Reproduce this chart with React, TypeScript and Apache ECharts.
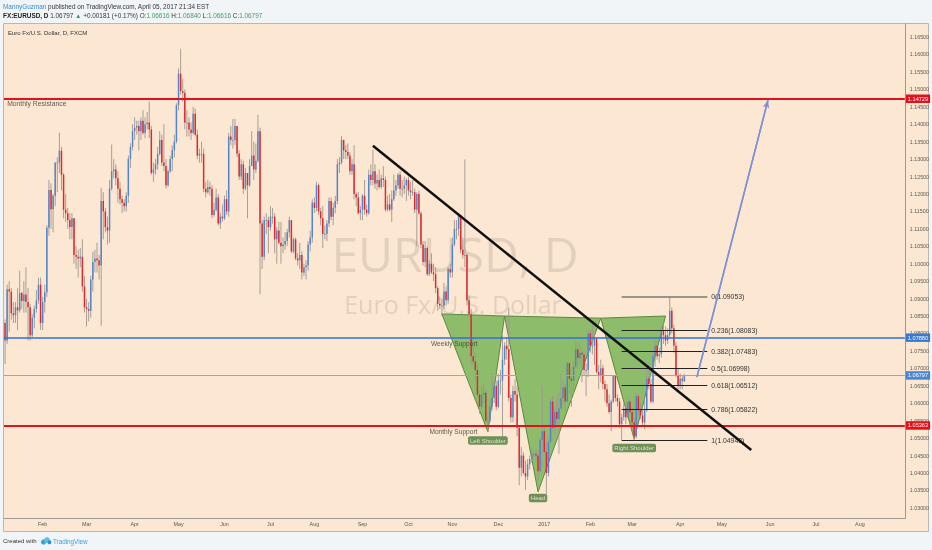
import React, { useEffect, useRef } from "react";
import * as echarts from "echarts";

type Candle = [number, number, number, number]; // open, close, low, high

const jan2016: Candle[] = [
  [1.0830, 1.0780, 1.0712, 1.0840], [1.0780, 1.0927, 1.0770, 1.0940], [1.0927, 1.0920, 1.0805, 1.0950],
  [1.0920, 1.0858, 1.0840, 1.0930], [1.0858, 1.0852, 1.0830, 1.0890], [1.0852, 1.0875, 1.0830, 1.0890],
  [1.0875, 1.0866, 1.0810, 1.0930], [1.0866, 1.0916, 1.0860, 1.0980], [1.0916, 1.0893, 1.0870, 1.0920],
  [1.0893, 1.0912, 1.0860, 1.0950], [1.0912, 1.0890, 1.0860, 1.0990], [1.0890, 1.0875, 1.0780, 1.0930],
  [1.0875, 1.0795, 1.0780, 1.0885], [1.0795, 1.0845, 1.0790, 1.0855], [1.0845, 1.0870, 1.0815, 1.0880],
  [1.0870, 1.0895, 1.0860, 1.0925], [1.0895, 1.0940, 1.0885, 1.0960], [1.0940, 1.0830, 1.0810, 1.0960],
];
const feb2016: Candle[] = [
  [1.0830, 1.0890, 1.0810, 1.0905], [1.0890, 1.0918, 1.0860, 1.0940], [1.0918, 1.1103, 1.0905, 1.1110],
  [1.1103, 1.1211, 1.1080, 1.1240], [1.1211, 1.1156, 1.1100, 1.1230], [1.1156, 1.1195, 1.1090, 1.1200],
  [1.1195, 1.1290, 1.1165, 1.1290], [1.1290, 1.1290, 1.1205, 1.1305], [1.1290, 1.1324, 1.1260, 1.1376],
  [1.1324, 1.1255, 1.1210, 1.1335], [1.1255, 1.1155, 1.1130, 1.1260], [1.1155, 1.1145, 1.1120, 1.1200],
  [1.1145, 1.1125, 1.1100, 1.1160], [1.1125, 1.1105, 1.1070, 1.1145], [1.1105, 1.1130, 1.1070, 1.1145],
  [1.1130, 1.1025, 1.1000, 1.1130], [1.1025, 1.1020, 1.0985, 1.1050], [1.1020, 1.1015, 1.0960, 1.1040],
  [1.1015, 1.1020, 1.0990, 1.1045], [1.1020, 1.0935, 1.0920, 1.1070], [1.0935, 1.0875, 1.0860, 1.0965],
];
const mar2016: Candle[] = [
  [1.0875, 1.0870, 1.0820, 1.0900], [1.0870, 1.0865, 1.0835, 1.0890], [1.0865, 1.0955, 1.0845, 1.0965],
  [1.0955, 1.1005, 1.0920, 1.1035], [1.1005, 1.1015, 1.0975, 1.1040], [1.1015, 1.1010, 1.0975, 1.1060],
  [1.1010, 1.0995, 1.0955, 1.1025], [1.0995, 1.1180, 1.0822, 1.1218], [1.1180, 1.1150, 1.1070, 1.1205],
  [1.1150, 1.1105, 1.1090, 1.1160], [1.1105, 1.1095, 1.1055, 1.1135], [1.1095, 1.1215, 1.1060, 1.1240],
  [1.1215, 1.1265, 1.1210, 1.1342], [1.1265, 1.1270, 1.1245, 1.1300], [1.1270, 1.1245, 1.1225, 1.1285],
  [1.1245, 1.1215, 1.1175, 1.1265], [1.1215, 1.1185, 1.1170, 1.1235], [1.1185, 1.1175, 1.1145, 1.1195],
  [1.1175, 1.1165, 1.1150, 1.1185], [1.1165, 1.1195, 1.1150, 1.1205], [1.1195, 1.1300, 1.1175, 1.1310],
  [1.1300, 1.1335, 1.1275, 1.1345], [1.1335, 1.1380, 1.1325, 1.1400],
];
const apr2016: Candle[] = [
  [1.1380, 1.1390, 1.1355, 1.1420], [1.1390, 1.1395, 1.1370, 1.1410], [1.1395, 1.1380, 1.1325, 1.1410],
  [1.1380, 1.1410, 1.1355, 1.1420], [1.1410, 1.1375, 1.1370, 1.1440], [1.1375, 1.1400, 1.1360, 1.1420],
  [1.1400, 1.1405, 1.1385, 1.1435], [1.1405, 1.1385, 1.1360, 1.1465], [1.1385, 1.1260, 1.1255, 1.1395],
  [1.1260, 1.1270, 1.1235, 1.1290], [1.1270, 1.1285, 1.1255, 1.1300], [1.1285, 1.1315, 1.1270, 1.1335],
  [1.1315, 1.1355, 1.1310, 1.1380], [1.1355, 1.1290, 1.1280, 1.1370], [1.1290, 1.1280, 1.1265, 1.1400],
  [1.1280, 1.1225, 1.1215, 1.1300], [1.1225, 1.1265, 1.1220, 1.1270], [1.1265, 1.1300, 1.1260, 1.1310],
  [1.1300, 1.1325, 1.1265, 1.1340], [1.1325, 1.1350, 1.1305, 1.1370], [1.1350, 1.1455, 1.1345, 1.1460],
];
const may2016: Candle[] = [
  [1.1455, 1.1545, 1.1440, 1.1560], [1.1545, 1.1495, 1.1485, 1.1616], [1.1495, 1.1490, 1.1465, 1.1530],
  [1.1490, 1.1405, 1.1385, 1.1500], [1.1405, 1.1405, 1.1365, 1.1440], [1.1405, 1.1385, 1.1365, 1.1420],
  [1.1385, 1.1375, 1.1355, 1.1405], [1.1375, 1.1430, 1.1370, 1.1450], [1.1430, 1.1370, 1.1365, 1.1445],
  [1.1370, 1.1310, 1.1300, 1.1385], [1.1310, 1.1315, 1.1290, 1.1330], [1.1315, 1.1315, 1.1290, 1.1350],
  [1.1315, 1.1215, 1.1205, 1.1330], [1.1215, 1.1205, 1.1190, 1.1235], [1.1205, 1.1220, 1.1200, 1.1240],
  [1.1220, 1.1215, 1.1195, 1.1235], [1.1215, 1.1140, 1.1130, 1.1225], [1.1140, 1.1155, 1.1135, 1.1175],
  [1.1155, 1.1190, 1.1150, 1.1215], [1.1190, 1.1115, 1.1110, 1.1200], [1.1115, 1.1135, 1.1100, 1.1145],
  [1.1135, 1.1130, 1.1120, 1.1170],
];
const jun2016: Candle[] = [
  [1.1130, 1.1185, 1.1125, 1.1195], [1.1185, 1.1150, 1.1140, 1.1210], [1.1150, 1.1365, 1.1135, 1.1375],
  [1.1365, 1.1355, 1.1340, 1.1395], [1.1355, 1.1355, 1.1330, 1.1415], [1.1355, 1.1395, 1.1340, 1.1415],
  [1.1395, 1.1315, 1.1305, 1.1395], [1.1315, 1.1250, 1.1240, 1.1325], [1.1250, 1.1285, 1.1240, 1.1300],
  [1.1285, 1.1215, 1.1200, 1.1295], [1.1215, 1.1260, 1.1210, 1.1275], [1.1260, 1.1225, 1.1130, 1.1260],
  [1.1225, 1.1280, 1.1220, 1.1300], [1.1280, 1.1310, 1.1280, 1.1380], [1.1310, 1.1270, 1.1240, 1.1350],
  [1.1270, 1.1295, 1.1260, 1.1345], [1.1295, 1.1380, 1.1290, 1.1427], [1.1380, 1.1115, 1.0912, 1.1390],
  [1.1115, 1.1020, 1.0985, 1.1125], [1.1020, 1.1125, 1.1010, 1.1135], [1.1125, 1.1125, 1.1085, 1.1145],
  [1.1125, 1.1105, 1.1030, 1.1135],
];
const jul2016: Candle[] = [
  [1.1105, 1.1135, 1.1095, 1.1165], [1.1135, 1.1135, 1.1115, 1.1160], [1.1135, 1.1070, 1.1030, 1.1145],
  [1.1070, 1.1095, 1.1000, 1.1105], [1.1095, 1.1060, 1.1055, 1.1120], [1.1060, 1.1050, 1.1000, 1.1120],
  [1.1050, 1.1055, 1.1030, 1.1075], [1.1055, 1.1065, 1.1040, 1.1090], [1.1065, 1.1090, 1.1050, 1.1100],
  [1.1090, 1.1125, 1.1075, 1.1135], [1.1125, 1.1035, 1.1030, 1.1125], [1.1035, 1.1070, 1.1030, 1.1075],
  [1.1070, 1.1015, 1.1010, 1.1075], [1.1015, 1.1010, 1.0995, 1.1030], [1.1010, 1.1025, 1.0985, 1.1060],
  [1.1025, 1.0975, 1.0955, 1.1035], [1.0975, 1.0990, 1.0965, 1.1000], [1.0990, 1.0995, 1.0955, 1.1010],
  [1.0995, 1.1055, 1.0980, 1.1065], [1.1055, 1.1075, 1.1035, 1.1095], [1.1075, 1.1175, 1.1060, 1.1185],
];
const aug2016: Candle[] = [
  [1.1175, 1.1160, 1.1145, 1.1190], [1.1160, 1.1225, 1.1150, 1.1235], [1.1225, 1.1150, 1.1140, 1.1230],
  [1.1150, 1.1130, 1.1110, 1.1160], [1.1130, 1.1085, 1.1045, 1.1165], [1.1085, 1.1085, 1.1070, 1.1110],
  [1.1085, 1.1115, 1.1065, 1.1125], [1.1115, 1.1180, 1.1105, 1.1190], [1.1180, 1.1135, 1.1125, 1.1190],
  [1.1135, 1.1160, 1.1110, 1.1175], [1.1160, 1.1180, 1.1145, 1.1195], [1.1180, 1.1285, 1.1170, 1.1300],
  [1.1285, 1.1290, 1.1260, 1.1305], [1.1290, 1.1355, 1.1285, 1.1366], [1.1355, 1.1325, 1.1300, 1.1355],
  [1.1325, 1.1320, 1.1300, 1.1340], [1.1320, 1.1310, 1.1300, 1.1345], [1.1310, 1.1265, 1.1255, 1.1320],
  [1.1265, 1.1285, 1.1255, 1.1300], [1.1285, 1.1200, 1.1185, 1.1340], [1.1200, 1.1190, 1.1165, 1.1205],
  [1.1190, 1.1145, 1.1140, 1.1205], [1.1145, 1.1155, 1.1125, 1.1165],
];
const sep2016: Candle[] = [
  [1.1155, 1.1195, 1.1125, 1.1200], [1.1195, 1.1155, 1.1140, 1.1240], [1.1155, 1.1145, 1.1135, 1.1170],
  [1.1145, 1.1255, 1.1140, 1.1270], [1.1255, 1.1240, 1.1225, 1.1285], [1.1240, 1.1265, 1.1225, 1.1327],
  [1.1265, 1.1230, 1.1215, 1.1285], [1.1230, 1.1240, 1.1210, 1.1255], [1.1240, 1.1220, 1.1215, 1.1270],
  [1.1220, 1.1245, 1.1215, 1.1255], [1.1245, 1.1240, 1.1220, 1.1280], [1.1240, 1.1155, 1.1150, 1.1250],
  [1.1155, 1.1170, 1.1150, 1.1195], [1.1170, 1.1155, 1.1150, 1.1200], [1.1155, 1.1185, 1.1120, 1.1210],
  [1.1185, 1.1210, 1.1180, 1.1255], [1.1210, 1.1225, 1.1195, 1.1240], [1.1225, 1.1255, 1.1215, 1.1260],
  [1.1255, 1.1215, 1.1195, 1.1265], [1.1215, 1.1215, 1.1190, 1.1240], [1.1215, 1.1225, 1.1200, 1.1250],
  [1.1225, 1.1240, 1.1180, 1.1245],
];
const oct2016: Candle[] = [
  [1.1240, 1.1210, 1.1195, 1.1250], [1.1210, 1.1205, 1.1185, 1.1235], [1.1205, 1.1205, 1.1195, 1.1240],
  [1.1205, 1.1155, 1.1145, 1.1215], [1.1155, 1.1200, 1.1050, 1.1205], [1.1200, 1.1145, 1.1140, 1.1210],
  [1.1145, 1.1055, 1.1045, 1.1150], [1.1055, 1.1005, 1.0995, 1.1065], [1.1005, 1.1045, 1.0990, 1.1065],
  [1.1045, 1.0970, 1.0965, 1.1050], [1.0970, 1.1000, 1.0965, 1.1010], [1.1000, 1.0975, 1.0970, 1.1030],
  [1.0975, 1.0970, 1.0950, 1.1000], [1.0970, 1.0930, 1.0915, 1.0990], [1.0930, 1.0885, 1.0865, 1.0935],
  [1.0885, 1.0880, 1.0870, 1.0905], [1.0880, 1.0880, 1.0850, 1.0900], [1.0880, 1.0920, 1.0870, 1.0945],
  [1.0920, 1.0895, 1.0880, 1.0935], [1.0895, 1.0985, 1.0885, 1.0990], [1.0985, 1.0975, 1.0960, 1.1000],
];
const nov2016: Candle[] = [
  [1.0975, 1.1055, 1.0960, 1.1075], [1.1055, 1.1100, 1.1050, 1.1125], [1.1100, 1.1100, 1.1070, 1.1125],
  [1.1100, 1.1140, 1.1080, 1.1145], [1.1140, 1.1040, 1.1030, 1.1140], [1.1040, 1.1025, 1.1015, 1.1075],
  [1.1025, 1.1025, 1.0990, 1.1299], [1.1025, 1.0895, 1.0880, 1.1030], [1.0895, 1.0855, 1.0845, 1.0910],
  [1.0855, 1.0735, 1.0710, 1.0870], [1.0735, 1.0720, 1.0705, 1.0785], [1.0720, 1.0695, 1.0665, 1.0745],
  [1.0695, 1.0625, 1.0620, 1.0715], [1.0625, 1.0590, 1.0570, 1.0635], [1.0590, 1.0625, 1.0585, 1.0650],
  [1.0625, 1.0630, 1.0600, 1.0655], [1.0630, 1.0550, 1.0545, 1.0640], [1.0550, 1.0550, 1.0518, 1.0570],
  [1.0550, 1.0590, 1.0545, 1.0610], [1.0590, 1.0615, 1.0580, 1.0685], [1.0615, 1.0650, 1.0600, 1.0660],
  [1.0650, 1.0590, 1.0580, 1.0665],
];
const dec2016: Candle[] = [
  [1.0590, 1.0665, 1.0585, 1.0685], [1.0665, 1.0665, 1.0625, 1.0695], [1.0665, 1.0725, 1.0505, 1.0795],
  [1.0725, 1.0765, 1.0710, 1.0775], [1.0765, 1.0755, 1.0725, 1.0790], [1.0755, 1.0615, 1.0605, 1.0874],
  [1.0615, 1.0560, 1.0545, 1.0625], [1.0560, 1.0635, 1.0545, 1.0650], [1.0635, 1.0625, 1.0605, 1.0670],
  [1.0625, 1.0530, 1.0505, 1.0650], [1.0530, 1.0415, 1.0365, 1.0535], [1.0415, 1.0450, 1.0390, 1.0475],
  [1.0450, 1.0400, 1.0395, 1.0460], [1.0400, 1.0390, 1.0352, 1.0435], [1.0390, 1.0425, 1.0380, 1.0440],
  [1.0425, 1.0440, 1.0410, 1.0450], [1.0440, 1.0455, 1.0430, 1.0470], [1.0455, 1.0455, 1.0445, 1.0465],
  [1.0455, 1.0450, 1.0435, 1.0470], [1.0450, 1.0405, 1.0375, 1.0465], [1.0405, 1.0495, 1.0400, 1.0500],
  [1.0495, 1.0520, 1.0420, 1.0650],
];
const jan2017: Candle[] = [
  [1.0520, 1.0460, 1.0455, 1.0530], [1.0460, 1.0400, 1.0340, 1.0485], [1.0400, 1.0490, 1.0390, 1.0500],
  [1.0490, 1.0605, 1.0485, 1.0615], [1.0605, 1.0530, 1.0520, 1.0620], [1.0530, 1.0575, 1.0510, 1.0590],
  [1.0575, 1.0555, 1.0540, 1.0615], [1.0555, 1.0585, 1.0455, 1.0630], [1.0585, 1.0615, 1.0580, 1.0685],
  [1.0615, 1.0645, 1.0595, 1.0665], [1.0645, 1.0605, 1.0580, 1.0655], [1.0605, 1.0715, 1.0600, 1.0720],
  [1.0715, 1.0670, 1.0625, 1.0720], [1.0670, 1.0665, 1.0590, 1.0680], [1.0665, 1.0705, 1.0625, 1.0720],
  [1.0705, 1.0755, 1.0700, 1.0775], [1.0755, 1.0730, 1.0700, 1.0775], [1.0730, 1.0745, 1.0710, 1.0775],
  [1.0745, 1.0740, 1.0660, 1.0755], [1.0740, 1.0695, 1.0680, 1.0750], [1.0695, 1.0695, 1.0620, 1.0715],
  [1.0695, 1.0800, 1.0675, 1.0810],
];
const feb2017: Candle[] = [
  [1.0800, 1.0765, 1.0745, 1.0810], [1.0765, 1.0765, 1.0740, 1.0829], [1.0765, 1.0785, 1.0710, 1.0800],
  [1.0785, 1.0690, 1.0685, 1.0790], [1.0690, 1.0680, 1.0640, 1.0710], [1.0680, 1.0700, 1.0660, 1.0725],
  [1.0700, 1.0655, 1.0640, 1.0710], [1.0655, 1.0640, 1.0605, 1.0665], [1.0640, 1.0600, 1.0590, 1.0655],
  [1.0600, 1.0575, 1.0570, 1.0625], [1.0575, 1.0605, 1.0520, 1.0610], [1.0605, 1.0680, 1.0600, 1.0680],
  [1.0680, 1.0615, 1.0605, 1.0680], [1.0615, 1.0605, 1.0590, 1.0625], [1.0605, 1.0540, 1.0530, 1.0615],
  [1.0540, 1.0560, 1.0495, 1.0570], [1.0560, 1.0585, 1.0550, 1.0600], [1.0585, 1.0560, 1.0540, 1.0600],
  [1.0560, 1.0605, 1.0555, 1.0620], [1.0605, 1.0575, 1.0570, 1.0610],
];
const mar2017: Candle[] = [
  [1.0575, 1.0545, 1.0525, 1.0590], [1.0545, 1.0505, 1.0494, 1.0560], [1.0505, 1.0620, 1.0500, 1.0630],
  [1.0620, 1.0580, 1.0565, 1.0625], [1.0580, 1.0565, 1.0555, 1.0600], [1.0565, 1.0545, 1.0535, 1.0580],
  [1.0545, 1.0580, 1.0525, 1.0615], [1.0580, 1.0670, 1.0575, 1.0700], [1.0670, 1.0655, 1.0640, 1.0715],
  [1.0655, 1.0605, 1.0600, 1.0670], [1.0605, 1.0735, 1.0600, 1.0745], [1.0735, 1.0765, 1.0705, 1.0780],
  [1.0765, 1.0735, 1.0725, 1.0780], [1.0735, 1.0740, 1.0715, 1.0760], [1.0740, 1.0810, 1.0730, 1.0820],
  [1.0810, 1.0795, 1.0770, 1.0830], [1.0795, 1.0780, 1.0765, 1.0820], [1.0780, 1.0795, 1.0770, 1.0815],
  [1.0795, 1.0865, 1.0790, 1.0906], [1.0865, 1.0815, 1.0800, 1.0875], [1.0815, 1.0765, 1.0745, 1.0825],
  [1.0765, 1.0680, 1.0675, 1.0775], [1.0680, 1.0650, 1.0640, 1.0700],
];
const apr2017: Candle[] = [
  [1.0650, 1.0670, 1.0640, 1.0685], [1.0670, 1.0665, 1.0640, 1.0680], [1.0662, 1.0680, 1.0662, 1.0684],
];

const candles: Candle[] = [
  ...jan2016, ...feb2016, ...mar2016, ...apr2016, ...may2016, ...jun2016, ...jul2016, ...aug2016,
  ...sep2016, ...oct2016, ...nov2016, ...dec2016, ...jan2017, ...feb2017, ...mar2017, ...apr2017,
];

const monthNames = ["Jan", "Feb", "Mar", "Apr", "May", "Jun", "Jul", "Aug", "Sep", "Oct", "Nov", "Dec"];
const firstDay = "2016-01-06";
const lastDay = "2017-08-30";

// price levels
const monthlyResistance = 1.14729;
const weeklySupport = 1.0788;
const monthlySupport = 1.05363;
const lastPrice = 1.06797;

// Fibonacci retracement
const fibStart = "2017-02-22";
const fibEnd = "2017-04-20";
const fibRatios = ["0", "0.236", "0.382", "0.5", "0.618", "0.786", "1"];
const fibPrices = [1.09053, 1.08083, 1.07483, 1.06998, 1.06512, 1.05822, 1.04943];

// trend line and projection
const trendLine: [string, number][] = [["2016-09-08", 1.1338], ["2017-05-19", 1.0466]];
const projection: [string, number][] = [["2017-04-13", 1.0675], ["2017-05-31", 1.1469]];

// inverse head & shoulders points
const hsStart: [string, number] = ["2016-10-25", 1.0856];
const hsLeft: [string, number] = ["2016-11-24", 1.0518];
const hsNeck1: [string, number] = ["2016-12-06", 1.0850];
const hsHead: [string, number] = ["2016-12-28", 1.0346];
const hsNeck2: [string, number] = ["2017-02-08", 1.0844];
const hsRight: [string, number] = ["2017-03-02", 1.0497];
const hsEnd: [string, number] = ["2017-03-23", 1.0850];
const hsTriangles = [[hsStart, hsLeft, hsNeck1], [hsNeck1, hsHead, hsNeck2], [hsNeck2, hsRight, hsEnd]];
const hsLabelTexts = ["Left Shoulder", "Head", "Right Shoulder"];
const hsLabelPoints = [hsLeft, hsHead, hsRight];
const hsLabelGaps = [4.5, 1.8, 4.7];

const FONT = '"Liberation Sans", Arial, sans-serif';
const PANE_BG = "#fce7d2";
const PAGE_BG = "#f2f5f8";
const UP = "#4f86cf";
const DOWN = "#e6252b";
const WICK = "#9d968f";

function buildDates(): string[] {
  const out: string[] = [];
  const d = new Date(firstDay + "T00:00:00Z");
  const end = new Date(lastDay + "T00:00:00Z").getTime();
  while (d.getTime() <= end) {
    const wd = d.getUTCDay();
    if (wd !== 0 && wd !== 6) out.push(d.toISOString().slice(0, 10));
    d.setUTCDate(d.getUTCDate() + 1);
  }
  return out;
}

function buildOption() {
  const dates = buildDates();
  const idx = (s: string) => dates.indexOf(s);
  const tag = (text: string, bg: string) => ({
    show: true,
    position: "end",
    distance: 1,
    formatter: text,
    color: "#fff",
    backgroundColor: bg,
    padding: [1.5, 2, 1, 2],
    fontSize: 5.6,
    fontFamily: FONT,
  });

  const levelLines = [
    { yAxis: monthlyResistance, lineStyle: { color: "#e3121a", width: 2, type: "solid" }, label: tag("1.14729", "#e3121a") },
    { yAxis: weeklySupport, lineStyle: { color: "#3570d3", width: 1.6, type: "solid" }, label: tag("1.07880", "#3a78d6") },
    { yAxis: lastPrice, lineStyle: { color: "#86a9e0", width: 1, type: "solid" }, label: tag("1.06797", "#4a86d8") },
    { yAxis: monthlySupport, lineStyle: { color: "#e3121a", width: 2, type: "solid" }, label: tag("1.05363", "#e3121a") },
  ];

  const fibLines = fibRatios.map((r, i) => {
    const style = { color: i === 0 ? "#7d7873" : "#222", width: i === 0 ? 1.6 : 1, type: "solid" };
    const label = {
      show: true,
      position: "end",
      distance: 4,
      formatter: `${r}(${fibPrices[i].toFixed(5)})`,
      color: "#333",
      fontSize: 6.8,
      fontFamily: FONT,
    };
    return [
      { coord: [fibStart, fibPrices[i]], lineStyle: style, label },
      { coord: [fibEnd, fibPrices[i]], lineStyle: style, label },
    ];
  });

  const textLabel = (
    at: [string, number],
    text: string,
    align: string,
    dy: number,
    extra: Record<string, unknown> = {}
  ) => ({
    value: at,
    label: {
      show: true,
      formatter: text,
      position: [0, dy],
      align,
      verticalAlign: "top",
      fontSize: 6.8,
      color: "#3a3530",
      fontFamily: FONT,
      ...extra,
    },
  });

  const textData = [
    textLabel(["2016-01-07", monthlyResistance], "Monthly Resistance", "left", 1.5),
    textLabel(["2016-11-17", weeklySupport], "Weekly Support", "right", 2.5, { fontSize: 6.6 }),
    textLabel(["2016-11-17", monthlySupport], "Monthly Support", "right", 2.5, { fontSize: 6.6 }),
    ...hsLabelPoints.map((p, i) =>
      textLabel(p, hsLabelTexts[i], "center", hsLabelGaps[i], {
        color: "#f4f7ee",
        backgroundColor: "#4c7a38",
        borderRadius: 2,
        padding: [1.5, 2, 1, 2],
        fontSize: 6,
      })
    ),
  ];

  return {
    animation: false,
    textStyle: { fontFamily: FONT },
    grid: { left: 4, right: 27, top: 19.56, bottom: 24.69, containLabel: false },
    xAxis: {
      type: "category",
      data: dates,
      boundaryGap: true,
      offset: -7,
      axisLine: { show: false },
      axisTick: { show: false },
      splitLine: { show: false },
      axisLabel: {
        interval: (i: number, v: string) => i > 0 && v.slice(5, 7) !== dates[i - 1].slice(5, 7),
        formatter: (v: string) => (v.slice(5, 7) === "01" ? v.slice(0, 4) : monthNames[Number(v.slice(5, 7)) - 1]),
        fontSize: 5.4,
        color: "#5c5854",
        margin: 3,
        fontFamily: FONT,
      },
    },
    yAxis: {
      type: "value",
      position: "right",
      min: 1.025,
      max: 1.17,
      interval: 0.005,
      axisLine: { show: false },
      axisTick: { show: false },
      splitLine: { show: false },
      axisLabel: {
        formatter: (v: number) => v.toFixed(5),
        showMinLabel: false,
        showMaxLabel: false,
        fontSize: 5.3,
        color: "#5c5854",
        margin: 5,
        fontFamily: FONT,
      },
    },
    graphic: [
      { type: "rect", z: -10, shape: { x: 0, y: 0, width: 932, height: 550 }, style: { fill: PAGE_BG } },
      { type: "rect", z: -9, shape: { x: 3.5, y: 23.5, width: 925, height: 508 }, style: { fill: PANE_BG, stroke: "#bcb6b0", lineWidth: 1 } },
      { type: "line", z: -8, shape: { x1: 905.5, y1: 23.5, x2: 905.5, y2: 518.5 }, style: { stroke: "#9f9993", lineWidth: 1 } },
      { type: "line", z: -8, shape: { x1: 3.5, y1: 518.5, x2: 905.5, y2: 518.5 }, style: { stroke: "#9f9993", lineWidth: 1 } },
      {
        type: "text", z: -7, x: 455, y: 253,
        style: { text: "EURUSD, D", font: '48px "Open Sans", sans-serif', fill: "rgba(80,70,60,0.14)", align: "center", verticalAlign: "middle" },
      },
      {
        type: "text", z: -7, x: 453, y: 304,
        style: { text: "Euro Fx/U.S. Dollar", font: '25px "Open Sans", sans-serif', fill: "rgba(80,70,60,0.14)", align: "center", verticalAlign: "middle" },
      },
      {
        type: "text", x: 3, y: 6,
        style: {
          text: "{u|MannyGuzman}{t| published on TradingView.com, April 05, 2017 21:34 EST}",
          verticalAlign: "middle",
          rich: {
            u: { fill: "#3a8ad6", fontSize: 6.4, fontFamily: FONT },
            t: { fill: "#333", fontSize: 6.4, fontFamily: FONT },
          },
        },
      },
      {
        type: "text", x: 3, y: 15.5,
        style: {
          text: "{b|FX:EURUSD, D}{n| 1.06797 }{g|▲}{n| +0.00181 (+0.17%) O:}{g|1.06616}{n| H:}{g|1.06840}{n| L:}{g|1.06616}{n| C:}{g|1.06797}",
          verticalAlign: "middle",
          rich: {
            b: { fill: "#222", fontSize: 6.4, fontWeight: "bold", fontFamily: FONT },
            n: { fill: "#333", fontSize: 6.4, fontFamily: FONT },
            g: { fill: "#3c9f58", fontSize: 6.4, fontFamily: FONT },
          },
        },
      },
      {
        type: "text", x: 8, y: 33,
        style: { text: "Euro Fx/U.S. Dollar, D, FXCM", fill: "#333", fontSize: 6, fontFamily: FONT, verticalAlign: "middle" },
      },
      {
        type: "text", x: 3, y: 541,
        style: { text: "Created with", fill: "#333", fontSize: 6, fontFamily: FONT, verticalAlign: "middle" },
      },
      { type: "circle", shape: { cx: 43.5, cy: 542, r: 2.6 }, style: { fill: "#3aa3dc" } },
      { type: "circle", shape: { cx: 47, cy: 540, r: 2.8 }, style: { fill: "#56c0ea" } },
      { type: "circle", shape: { cx: 49.5, cy: 542.3, r: 2 }, style: { fill: "#2f8fd0" } },
      {
        type: "text", x: 53, y: 541,
        style: { text: "TradingView", fill: "#3aa3dc", fontSize: 6.3, fontFamily: FONT, verticalAlign: "middle" },
      },
    ],
    series: [
      {
        name: "H&S",
        type: "custom",
        z: 2,
        silent: true,
        data: hsTriangles.map((t) => [idx(t[1][0]), t[1][1]]),
        encode: { x: 0, y: 1 },
        renderItem: (params: any, api: any) => {
          const tri = hsTriangles[params.dataIndex];
          const pts = tri.map((p) => api.coord([idx(p[0]), p[1]]));
          return {
            type: "polygon",
            shape: { points: pts },
            style: { fill: "#8dbd6a", stroke: "#5a8a3d", lineWidth: 1 },
          };
        },
      },
      {
        name: "EURUSD",
        type: "custom",
        z: 3,
        silent: true,
        data: candles.map((c, i) => [i, c[0], c[1], c[2], c[3]]),
        encode: { x: 0, y: [1, 2, 3, 4] },
        renderItem: (params: any, api: any) => {
          const i = api.value(0);
          const o = api.value(1);
          const c = api.value(2);
          const l = api.value(3);
          const h = api.value(4);
          const pH = api.coord([i, h]);
          const pL = api.coord([i, l]);
          const pO = api.coord([i, o]);
          const pC = api.coord([i, c]);
          const bw = api.size([1, 0])[0] * 0.7;
          const x = pH[0];
          const top = Math.min(pO[1], pC[1]);
          const hgt = Math.max(Math.abs(pO[1] - pC[1]), 0.8);
          return {
            type: "group",
            children: [
              { type: "line", shape: { x1: x, y1: pH[1], x2: x, y2: pL[1] }, style: { stroke: WICK, lineWidth: 0.9 } },
              { type: "rect", shape: { x: x - bw / 2, y: top, width: bw, height: hgt }, style: { fill: c >= o ? UP : DOWN } },
            ],
          };
        },
      },
      {
        name: "Trend",
        type: "line",
        z: 5,
        clip: false,
        silent: true,
        data: trendLine,
        symbol: "none",
        lineStyle: { color: "#111", width: 2.5 },
        markLine: {
          silent: true,
          symbol: "none",
          precision: 5,
          animation: false,
          data: [...levelLines, ...fibLines],
        },
      },
      {
        name: "Projection",
        type: "line",
        z: 5,
        clip: false,
        silent: true,
        data: projection,
        symbol: "none",
        lineStyle: { color: "#7d92d6", width: 1.5 },
        markLine: {
          silent: true,
          symbol: ["none", "arrow"],
          symbolSize: [5, 8],
          precision: 5,
          animation: false,
          label: { show: false },
          lineStyle: { color: "#7d92d6", width: 1.5, type: "solid" },
          data: [[{ coord: projection[0] }, { coord: projection[1] }]],
        },
      },
      {
        name: "Notes",
        type: "scatter",
        z: 6,
        silent: true,
        symbolSize: 0,
        itemStyle: { color: "rgba(0,0,0,0)" },
        data: textData,
      },
    ],
  };
}

export default function App() {
  const ref = useRef<HTMLDivElement>(null);
  useEffect(() => {
    if (!ref.current) return;
    const chart = echarts.init(ref.current, null, { renderer: "svg" });
    chart.setOption(buildOption() as any);
    return () => chart.dispose();
  }, []);
  return <div ref={ref} style={{ position: "fixed", left: 0, top: 0, width: 932, height: 550 }} />;
}
